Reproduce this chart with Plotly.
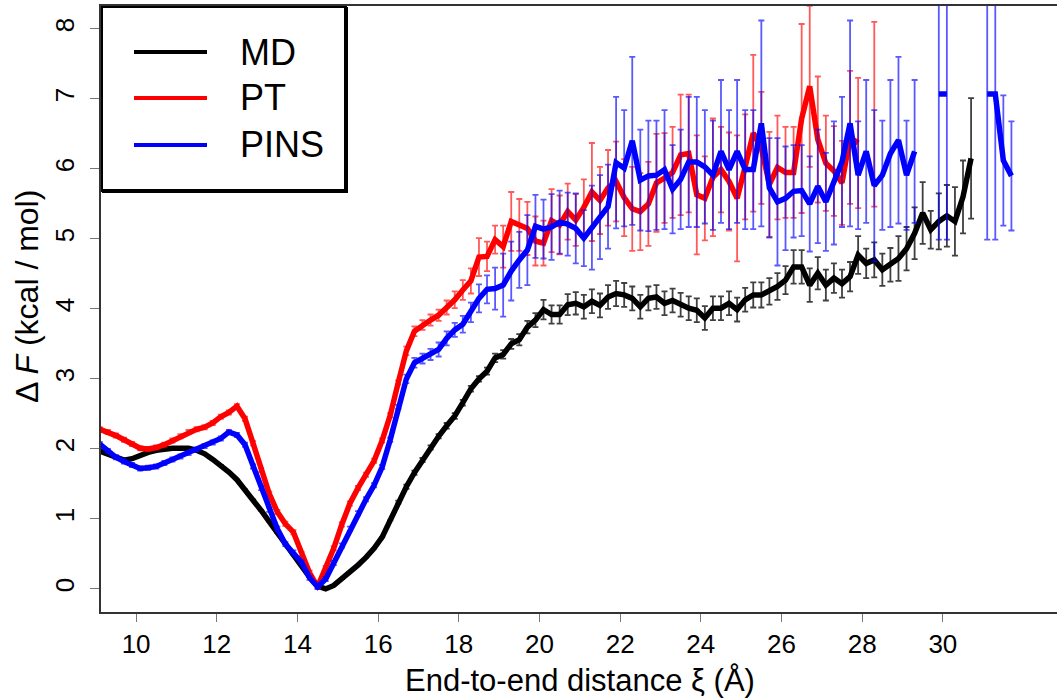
import plotly.graph_objects as go

# ---------------- data ----------------
xi = [9.1, 9.3, 9.5, 9.7, 9.9, 10.1, 10.3, 10.5, 10.7, 10.9,
      11.1, 11.3, 11.5, 11.7, 11.9, 12.1, 12.3, 12.5, 12.7, 12.9,
      13.1, 13.3, 13.5, 13.7, 13.9, 14.1, 14.3, 14.5, 14.7, 14.9,
      15.1, 15.3, 15.5, 15.7, 15.9, 16.1, 16.3, 16.5, 16.7, 16.9,
      17.1, 17.3, 17.5, 17.7, 17.9, 18.1, 18.3, 18.5, 18.7, 18.9,
      19.1, 19.3, 19.5, 19.7, 19.9, 20.1, 20.3, 20.5, 20.7, 20.9,
      21.1, 21.3, 21.5, 21.7, 21.9, 22.1, 22.3, 22.5, 22.7, 22.9,
      23.1, 23.3, 23.5, 23.7, 23.9, 24.1, 24.3, 24.5, 24.7, 24.9,
      25.1, 25.3, 25.5, 25.7, 25.9, 26.1, 26.3, 26.5, 26.7, 26.9,
      27.1, 27.3, 27.5, 27.7, 27.9, 28.1, 28.3, 28.5, 28.7, 28.9,
      29.1, 29.3, 29.5, 29.7, 29.9, 30.1, 30.3, 30.5, 30.7, 30.9,
      31.1, 31.3, 31.5, 31.7]

md_F = [1.97, 1.92, 1.87, 1.84, 1.86, 1.91, 1.95, 1.98, 2.00, 2.01,
        2.01, 2.01, 1.98, 1.93, 1.85, 1.77, 1.67, 1.56, 1.42, 1.28,
        1.12, 0.96, 0.80, 0.64, 0.49, 0.34, 0.17, 0.04, 0.00, 0.05,
        0.14, 0.24, 0.34, 0.45, 0.58, 0.74, 0.98, 1.24, 1.46, 1.66,
        1.84, 2.02, 2.18, 2.33, 2.47, 2.66, 2.86, 3.00, 3.11, 3.30,
        3.35, 3.50, 3.56, 3.74, 3.84, 3.99, 3.92, 3.92, 4.06, 4.08,
        4.03, 4.11, 4.05, 4.17, 4.22, 4.20, 4.15, 4.03, 4.15, 4.17,
        4.08, 4.12, 4.06, 4.01, 3.98, 3.87, 4.01, 4.01, 4.08, 3.99,
        4.13, 4.20, 4.20, 4.25, 4.32, 4.41, 4.60, 4.60, 4.34, 4.51,
        4.34, 4.44, 4.36, 4.46, 4.77, 4.65, 4.70, 4.56, 4.63, 4.72,
        4.86, 5.08, 5.37, 5.13, 5.25, 5.33, 5.25, 5.60, 6.15]
md_err = [0.0, 0.0, 0.0, 0.0, 0.0, 0.0, 0.0, 0.0, 0.0, 0.0,
          0.0, 0.0, 0.0, 0.0, 0.0, 0.0, 0.0, 0.0, 0.0, 0.0,
          0.0, 0.0, 0.0, 0.0, 0.0, 0.0, 0.0, 0.0, 0.0, 0.0,
          0.0, 0.0, 0.0, 0.0, 0.0, 0.0, 0.0, 0.02, 0.03, 0.03,
          0.03, 0.03, 0.03, 0.04, 0.04, 0.04, 0.04, 0.04, 0.05, 0.06,
          0.06, 0.07, 0.08, 0.09, 0.10, 0.14, 0.13, 0.13, 0.15, 0.16,
          0.17, 0.17, 0.17, 0.17, 0.18, 0.17, 0.17, 0.17, 0.17, 0.17,
          0.17, 0.17, 0.17, 0.17, 0.17, 0.17, 0.17, 0.17, 0.17, 0.17,
          0.17, 0.18, 0.18, 0.19, 0.19, 0.20, 0.24, 0.24, 0.24, 0.23,
          0.22, 0.21, 0.20, 0.21, 0.27, 0.21, 0.25, 0.23, 0.24, 0.32,
          0.31, 0.37, 0.44, 0.27, 0.40, 0.44, 0.49, 0.52, 0.86]

pt_F = [2.28, 2.24, 2.19, 2.13, 2.07, 2.01, 2.00, 2.02, 2.06, 2.12,
        2.18, 2.24, 2.28, 2.31, 2.37, 2.46, 2.52, 2.61, 2.43, 2.08,
        1.70, 1.36, 1.10, 0.93, 0.81, 0.50, 0.23, 0.03, 0.30, 0.58,
        0.92, 1.22, 1.44, 1.63, 1.83, 2.12, 2.48, 2.95, 3.40, 3.68,
        3.77, 3.84, 3.91, 4.02, 4.13, 4.27, 4.40, 4.74, 4.75, 4.99,
        4.89, 5.25, 5.20, 5.15, 4.97, 4.94, 5.26, 5.20, 5.39, 5.27,
        5.45, 5.67, 5.55, 5.73, 5.82, 5.59, 5.43, 5.39, 5.50, 5.80,
        5.87, 5.95, 6.20, 6.22, 5.63, 5.58, 5.88, 5.99, 5.82, 5.58,
        6.03, 6.51, 6.30, 5.78, 6.02, 5.95, 5.95, 6.72, 7.18, 6.42,
        6.08, 5.97, 5.80, 6.45, 6.37, None, 6.78]
pt_err = [0.03, 0.03, 0.03, 0.03, 0.03, 0.03, 0.03, 0.03, 0.03, 0.03,
          0.03, 0.03, 0.03, 0.03, 0.03, 0.03, 0.03, 0.03, 0.03, 0.03,
          0.03, 0.03, 0.03, 0.03, 0.03, 0.03, 0.03, 0.03, 0.03, 0.03,
          0.03, 0.03, 0.03, 0.03, 0.03, 0.03, 0.03, 0.03, 0.06, 0.07,
          0.07, 0.08, 0.08, 0.10, 0.12, 0.14, 0.18, 0.27, 0.21, 0.20,
          0.30, 0.42, 0.37, 0.38, 0.35, 0.32, 0.45, 0.42, 0.40, 0.37,
          0.40, 0.70, 0.48, 0.54, 0.57, 0.55, 0.60, 0.55, 0.60, 0.70,
          0.64, 0.65, 0.86, 0.84, 0.85, 0.60, 0.84, 0.61, 0.70, 0.90,
          0.75, 1.12, 0.80, 0.75, 0.74, 0.65, 0.65, 1.35, 1.15, 0.90,
          0.68, 0.64, 0.60, 0.95, 0.93, None, 1.32]

pins_F = [2.07, 1.97, 1.88, 1.82, 1.77, 1.72, 1.73, 1.75, 1.80, 1.85,
          1.89, 1.94, 1.99, 2.04, 2.09, 2.15, 2.24, 2.20, 2.06, 1.75,
          1.44, 1.13, 0.86, 0.64, 0.52, 0.38, 0.16, 0.03, 0.14, 0.37,
          0.62, 0.86, 1.08, 1.28, 1.48, 1.74, 2.13, 2.60, 3.00, 3.23,
          3.29, 3.35, 3.42, 3.58, 3.70, 3.78, 3.95, 4.15, 4.28, 4.29,
          4.34, 4.54, 4.70, 4.84, 5.18, 5.14, 5.17, 5.24, 5.21, 5.15,
          5.01, 5.16, 5.31, 5.46, 6.09, 6.01, 6.40, 5.84, 5.90, 5.91,
          5.99, 5.71, 5.85, 6.10, 6.10, 6.03, 5.91, 6.25, 5.99, 6.25,
          5.99, 5.99, 6.65, 5.73, 5.53, 5.58, 5.68, 5.69, 5.50, 5.75,
          5.53, 5.80, 6.10, 6.65, 5.91, 6.25, 5.76, 5.91, 6.22, 6.41,
          5.91, 6.25, None, None, 7.07, 7.07, None, None, None, None,
          7.07, 7.07, 6.12, 5.90]
pins_err = [0.03, 0.03, 0.03, 0.03, 0.03, 0.03, 0.03, 0.03, 0.03, 0.03,
            0.03, 0.03, 0.03, 0.03, 0.03, 0.03, 0.03, 0.03, 0.03, 0.03,
            0.03, 0.03, 0.03, 0.03, 0.03, 0.03, 0.03, 0.03, 0.03, 0.03,
            0.03, 0.03, 0.03, 0.03, 0.03, 0.03, 0.03, 0.03, 0.06, 0.07,
            0.07, 0.08, 0.10, 0.10, 0.10, 0.12, 0.14, 0.20, 0.20, 0.30,
            0.45, 0.42, 0.40, 0.50, 0.45, 0.42, 0.47, 0.45, 0.45, 0.50,
            0.40, 0.60, 0.60, 0.60, 0.94, 0.83, 1.20, 0.72, 0.79, 0.78,
            0.85, 0.63, 0.71, 0.93, 0.93, 0.81, 0.78, 1.02, 0.85, 1.02,
            0.85, 0.85, 1.47, 0.71, 0.91, 0.74, 0.66, 0.65, 0.68, 0.81,
            0.70, 0.88, 0.93, 1.47, 0.77, 1.02, 1.08, 0.78, 1.05, 1.19,
            0.78, 1.02, None, None, 2.08, 2.08, None, None, None, None,
            2.08, 2.08, 0.93, 0.78]

series_names = ["MD", "PT", "PINS"]
series_colors = ["#000000", "#FF0000", "#0000FF"]
err_colors = ["rgba(30,30,30,0.85)", "rgba(255,0,0,0.65)", "rgba(0,0,255,0.65)"]
x_ticks = [10, 12, 14, 16, 18, 20, 22, 24, 26, 28, 30]
y_ticks = [0, 1, 2, 3, 4, 5, 6, 7, 8]

FONT = "Liberation Sans, Arial, Helvetica, sans-serif"

fig = go.Figure()
data = [(xi[:len(md_F)], md_F, md_err),
        (xi[:len(pt_F)], pt_F, pt_err),
        (xi[:len(pins_F)], pins_F, pins_err)]
for (xs, ys, es), name, col, ecol in zip(data, series_names, series_colors, err_colors):
    fig.add_trace(go.Scatter(
        x=xs, y=ys, mode="lines", name=name, showlegend=False,
        line=dict(color=col, width=5.5),
        connectgaps=False,
        error_y=dict(type="data", array=es, visible=True, color=ecol,
                     thickness=1.8, width=3),
    ))

# plot geometry (pixels)
L, R, T, B = 101, 0, 6, 86
W, H = 1057, 698
pw, ph = W - L - R, H - T - B


def px_x(p):
    return (p - L) / pw


def px_y(p):
    return (H - B - p) / ph


shapes = []
# legend box
shapes.append(dict(type="rect", xref="paper", yref="paper",
                   x0=px_x(102), x1=px_x(346), y0=px_y(191), y1=px_y(7),
                   line=dict(color="black", width=2), fillcolor="white", layer="above"))
shapes.append(dict(type="line", xref="paper", yref="paper",
                   x0=px_x(346), x1=px_x(346), y0=px_y(193), y1=px_y(7),
                   line=dict(color="black", width=4), layer="above"))
shapes.append(dict(type="line", xref="paper", yref="paper",
                   x0=px_x(102), x1=px_x(348), y0=px_y(191), y1=px_y(191),
                   line=dict(color="black", width=4), layer="above"))

annotations = []
for i, (name, col) in enumerate(zip(series_names, series_colors)):
    yy = [52, 98, 145][i]
    shapes.append(dict(type="line", xref="paper", yref="paper",
                       x0=px_x(134), x1=px_x(207), y0=px_y(yy), y1=px_y(yy),
                       line=dict(color=col, width=4), layer="above"))
    annotations.append(dict(xref="paper", yref="paper", x=px_x(238), y=px_y(yy),
                            xanchor="left", yanchor="middle", showarrow=False,
                            text=name, font=dict(family=FONT, size=36, color="black")))

annotations.append(dict(xref="paper", yref="paper", x=px_x(580), y=px_y(680),
                        xanchor="center", yanchor="middle", showarrow=False,
                        text="End-to-end distance ξ (Å)",
                        font=dict(family=FONT, size=31, color="black")))
annotations.append(dict(xref="paper", yref="paper", x=px_x(27), y=px_y(297),
                        xanchor="center", yanchor="middle", showarrow=False, textangle=-90,
                        text="Δ <i>F</i> (kcal / mol)",
                        font=dict(family=FONT, size=32, color="black")))

fig.update_layout(
    width=W, height=H,
    margin=dict(l=L, r=R, t=T, b=B, pad=0),
    paper_bgcolor="white", plot_bgcolor="white",
    shapes=shapes, annotations=annotations,
    font=dict(family=FONT, color="black"),
)
fig.update_xaxes(range=[9.13, 32.83], tickvals=x_ticks, ticktext=[str(v) for v in x_ticks],
                 showgrid=False, zeroline=False, showline=True, mirror=True,
                 linecolor="#333333", linewidth=1.5,
                 ticks="outside", ticklen=8, tickwidth=1.2, tickcolor="#777777",
                 tickfont=dict(family=FONT, size=26, color="black"))
fig.update_yaxes(range=[-0.33, 8.327], tickvals=y_ticks, ticktext=[str(v) for v in y_ticks],
                 showgrid=False, zeroline=False, showline=True, mirror=False,
                 linecolor="#333333", linewidth=1.5,
                 ticks="outside", ticklen=9, tickwidth=1.2, tickcolor="#777777",
                 tickangle=-90, ticklabelstandoff=6,
                 tickfont=dict(family=FONT, size=26, color="black"))

fig.write_html("out.html")
